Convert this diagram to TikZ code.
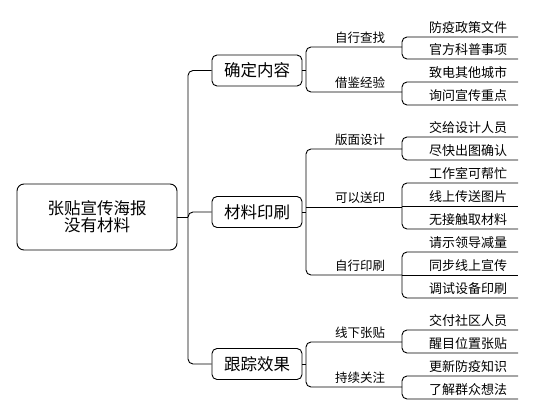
\documentclass[tikz,border=0pt]{standalone}
\usepackage{fontspec}
\newfontfamily\cjk{Noto Sans CJK SC}
\begin{document}
\begin{tikzpicture}[
        x=1pt, y=-1pt,
        every node/.style={font=\cjk},
        link/.style={draw, line width=0.9pt, rounded corners=5pt},
        rootbox/.style={draw, line width=0.9pt, rounded corners=7pt, minimum width=160pt, minimum height=66pt, align=center, font=\cjk\fontsize{16.5}{17}\selectfont},
        topic/.style={draw, line width=0.9pt, rounded corners=5pt, minimum width=90pt, minimum height=31pt, font=\cjk\fontsize{16.5}{17}\selectfont},
        sub/.style={anchor=south, inner sep=3.5pt, font=\cjk\fontsize{12.5}{13}\selectfont},
        leaf/.style={anchor=south, inner sep=3.5pt, font=\cjk\fontsize{13}{14}\selectfont},
    ]
    \useasboundingbox (0,0) rectangle (535,415);
    % root and main topics
    \node[rootbox](root) at (97,217) {张贴宣传海报\\没有材料};
    \node[topic](c1) at (257,70.5) {确定内容};
    \node[topic](c2) at (257,212) {材料印刷};
    \node[topic](c3) at (257,364) {跟踪效果};
    \coordinate (trunk) at (188,217);
    \draw[link] (root.east) -- (trunk);
    \draw[link] (c1.west) -| (trunk) |- (c3.west);
    \draw[link] (c2.west) -| (trunk);

    % 确定内容
    \coordinate (b1) at (306,70.5);
    \node[sub](k1) at (360,47) {自行查找};
    \node[sub](k2) at (360,92) {借鉴经验};
    \draw[link] (c1.east) -- (b1);
    \draw[link] ([xshift=42pt]k1.south) -- (b1 |- k1.south) |- ([xshift=42pt]k2.south);
    \node[leaf](l1) at (468,37) {防疫政策文件};
    \node[leaf](l2) at (468,59) {官方科普事项};
    \draw[link] ([xshift=50pt]l1.south) -- ([xshift=-66pt]l1.south) |- ([xshift=50pt]l2.south);
    \node[leaf](l3) at (468,82) {致电其他城市};
    \node[leaf](l4) at (468,105) {询问宣传重点};
    \draw[link] ([xshift=50pt]l3.south) -- ([xshift=-66pt]l3.south) |- ([xshift=50pt]l4.south);

    % 材料印刷
    \coordinate (b2) at (306,212);
    \node[sub](k3) at (360,149) {版面设计};
    \node[sub](k4) at (360,207) {可以送印};
    \node[sub](k5) at (360,275) {自行印刷};
    \draw[link] (c2.east) -- (b2);
    \draw[link] ([xshift=42pt]k3.south) -- (b2 |- k3.south) |- ([xshift=42pt]k5.south);
    \draw[link] (b2 |- k4.south) -- ([xshift=42pt]k4.south);
    \node[leaf](l5) at (468,137) {交给设计人员};
    \node[leaf](l6) at (468,160) {尽快出图确认};
    \draw[link] ([xshift=50pt]l5.south) -- ([xshift=-66pt]l5.south) |- ([xshift=50pt]l6.south);
    \node[leaf](l7) at (468,183) {工作室可帮忙};
    \node[leaf](l8) at (468,206) {线上传送图片};
    \node[leaf](l9) at (468,229) {无接触取材料};
    \draw[link] ([xshift=50pt]l7.south) -- ([xshift=-66pt]l7.south) |- ([xshift=50pt]l9.south);
    \draw[link] ([xshift=-66pt]l8.south) -- ([xshift=50pt]l8.south);
    \node[leaf](l10) at (468,252) {请示领导减量};
    \node[leaf](l11) at (468,275) {同步线上宣传};
    \node[leaf](l12) at (468,298) {调试设备印刷};
    \draw[link] ([xshift=50pt]l10.south) -- ([xshift=-66pt]l10.south) |- ([xshift=50pt]l12.south);
    \draw[link] ([xshift=-66pt]l11.south) -- ([xshift=50pt]l11.south);

    % 跟踪效果
    \coordinate (b3) at (306,364);
    \node[sub](k6) at (360,342) {线下张贴};
    \node[sub](k7) at (360,387) {持续关注};
    \draw[link] (c3.east) -- (b3);
    \draw[link] ([xshift=42pt]k6.south) -- (b3 |- k6.south) |- ([xshift=42pt]k7.south);
    \node[leaf](l13) at (468,330) {交付社区人员};
    \node[leaf](l14) at (468,353) {醒目位置张贴};
    \draw[link] ([xshift=50pt]l13.south) -- ([xshift=-66pt]l13.south) |- ([xshift=50pt]l14.south);
    \node[leaf](l15) at (468,376) {更新防疫知识};
    \node[leaf](l16) at (468,399) {了解群众想法};
    \draw[link] ([xshift=50pt]l15.south) -- ([xshift=-66pt]l15.south) |- ([xshift=50pt]l16.south);
\end{tikzpicture}
\end{document}
